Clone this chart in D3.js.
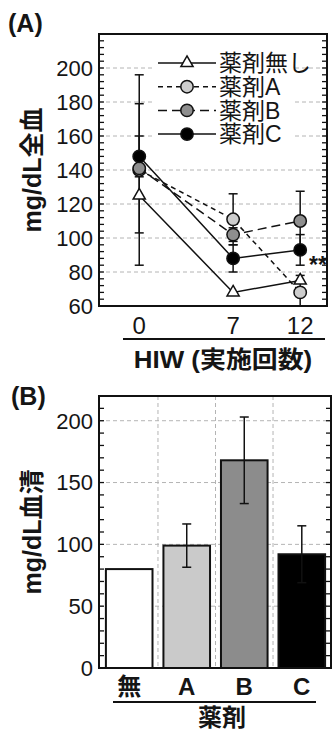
<!DOCTYPE html>
<html>
<head>
<meta charset="utf-8">
<script src="https://cdn.jsdelivr.net/npm/d3@7"></script>
<style>
    body { margin: 0; background: #fff; }
    text { font-family: "Liberation Sans", Arial, "Noto Sans CJK JP", sans-serif; fill: #151515; }
</style>
</head>
<body>
<div id="chart"></div>
<script>
// (A) 全血 - HIW 実施回数
const hiwRounds = [0, 7, 12];
const legendNames = ['薬剤無し', '薬剤A', '薬剤B', '薬剤C'];
const noDrugMean = [125, 68, 75];
const drugAMean = [140, 111, 68];
const drugAErr = [56, 15, 10];
const drugBMean = [141, 102, 110];
const drugBErr = [38, 4, 17.5];
const drugCMean = [148, 88, 93];
const drugCErr = [12, 8, 9];
const yTicksA = [60, 80, 100, 120, 140, 160, 180, 200];

// (B) 血清
const drugLabels = ['無', 'A', 'B', 'C'];
const serumMean = [80, 99, 168, 92];
const serumErr = [null, 17.5, 35, 23];
const yTicksB = [0, 50, 100, 150, 200];

const W = 332, H = 731;
const svg = d3.select('#chart').append('svg')
    .attr('width', W)
    .attr('height', H);

const gridColor = '#b4b4b4';

// élargir un texte horizontalement autour de son point d'ancrage
function widen(sel, k) {
    sel.each(function() {
        const t = d3.select(this);
        const x = +t.attr('x'), y = +t.attr('y');
        t.attr('x', 0).attr('y', 0)
            .attr('transform', `translate(${x},${y}) scale(${k},1)`);
    });
}

// ---------- panel A ----------
const pa = { left: 99, right: 327, top: 34, bottom: 306 };
const xA = d3.scaleLinear().domain([-3, 14]).range([pa.left, pa.right]);
const yA = d3.scaleLinear().domain([60, 220]).range([pa.bottom, pa.top]);

const gA = svg.append('g');

// grille
gA.append('g').selectAll('line')
    .data(yTicksA.filter(v => v > 60))
    .enter().append('line')
    .attr('x1', pa.left).attr('x2', pa.right)
    .attr('y1', d => yA(d)).attr('y2', d => yA(d))
    .attr('stroke', gridColor)
    .attr('stroke-width', 1)
    .attr('stroke-dasharray', '4,3');

// ticks internes gauche / droite
function innerTicks(g, scale, x, dir, values, len) {
    g.append('g').selectAll('line')
        .data(values)
        .enter().append('line')
        .attr('x1', x).attr('x2', x + dir * len)
        .attr('y1', d => scale(d)).attr('y2', d => scale(d))
        .attr('stroke', '#111')
        .attr('stroke-width', 1.3);
}
const minorA = d3.range(60, 221, 4);
innerTicks(gA, yA, pa.left, 1, minorA, 5);
innerTicks(gA, yA, pa.right, -1, minorA, 5);

// labels axe Y
gA.append('g').selectAll('text')
    .data(yTicksA)
    .enter().append('text')
    .attr('x', 93)
    .attr('y', d => yA(d))
    .attr('dy', '0.36em')
    .attr('text-anchor', 'end')
    .style('font-size', '22px')
    .text(d => d);

// labels axe X
gA.append('g').selectAll('text')
    .data(hiwRounds)
    .enter().append('text')
    .attr('x', d => xA(d))
    .attr('y', 334)
    .attr('text-anchor', 'middle')
    .style('font-size', '24px')
    .text(d => d);

gA.append('line')
    .attr('x1', 123).attr('x2', 325)
    .attr('y1', 339).attr('y2', 339)
    .attr('stroke', '#111').attr('stroke-width', 2);

gA.append('text')
    .attr('x', 223).attr('y', 368)
    .attr('text-anchor', 'middle')
    .style('font-size', '24px')
    .style('font-weight', 'bold')
    .text('HIW (実施回数)')
    .call(widen, 1.08);

gA.append('text')
    .attr('transform', `translate(41, ${(pa.top + pa.bottom) / 2}) rotate(-90)`)
    .attr('text-anchor', 'middle')
    .style('font-size', '25px')
    .style('font-weight', 'bold')
    .text('mg/dL全血');

gA.append('text')
    .attr('x', 8).attr('y', 32)
    .style('font-size', '25px')
    .style('font-weight', 'bold')
    .text('(A)');

// séries
const seriesA = [
    { name: legendNames[0], mean: noDrugMean, err: null, marker: 'tri', fill: '#fff', dash: null },
    { name: legendNames[1], mean: drugAMean, err: drugAErr, marker: 'circle', fill: '#cdcdcd', dash: '5,4' },
    { name: legendNames[2], mean: drugBMean, err: drugBErr, marker: 'circle', fill: '#8e8e8e', dash: '9,5' },
    { name: legendNames[3], mean: drugCMean, err: drugCErr, marker: 'circle', fill: '#000', dash: null }
];

svg.append('clipPath').attr('id', 'clipA')
    .append('rect')
    .attr('x', pa.left).attr('y', pa.top)
    .attr('width', pa.right - pa.left).attr('height', pa.bottom - pa.top);

const plotA = gA.append('g').attr('clip-path', 'url(#clipA)');

const line = d3.line()
    .x((d, i) => xA(hiwRounds[i]))
    .y(d => yA(d));

seriesA.forEach(s => {
    plotA.append('path')
        .datum(s.mean)
        .attr('d', line)
        .attr('fill', 'none')
        .attr('stroke', '#111')
        .attr('stroke-width', 1.5)
        .attr('stroke-dasharray', s.dash);
});

const cap = 4.5;
seriesA.filter(s => s.err).forEach(s => {
    const eg = plotA.append('g');
    s.mean.forEach((m, i) => {
        const x = xA(hiwRounds[i]);
        const y0 = yA(m - s.err[i]), y1 = yA(m + s.err[i]);
        eg.append('line').attr('x1', x).attr('x2', x).attr('y1', y0).attr('y2', y1);
        eg.append('line').attr('x1', x - cap).attr('x2', x + cap).attr('y1', y0).attr('y2', y0);
        eg.append('line').attr('x1', x - cap).attr('x2', x + cap).attr('y1', y1).attr('y2', y1);
    });
    eg.selectAll('line').attr('stroke', '#111').attr('stroke-width', 1.5);
});

const triPath = d3.symbol().type(d3.symbolTriangle).size(64);

function drawMarker(g, s, x, y) {
    if (s.marker === 'tri') {
        g.append('path')
            .attr('d', triPath())
            .attr('transform', `translate(${x},${y})`)
            .attr('fill', s.fill)
            .attr('stroke', '#111')
            .attr('stroke-width', 1.5);
    } else {
        g.append('circle')
            .attr('cx', x).attr('cy', y).attr('r', 6.2)
            .attr('fill', s.fill)
            .attr('stroke', '#111')
            .attr('stroke-width', 1.5);
    }
}

seriesA.forEach(s => {
    s.mean.forEach((m, i) => drawMarker(plotA, s, xA(hiwRounds[i]), yA(m)));
});

gA.append('text')
    .attr('x', 309).attr('y', 273)
    .style('font-size', '23px')
    .style('font-weight', 'bold')
    .text('**');

// légende
const leg = gA.append('g');
leg.append('rect')
    .attr('x', 153).attr('y', 50)
    .attr('width', 140).attr('height', 96)
    .attr('fill', '#fff');
seriesA.forEach((s, i) => {
    const ly = 63 + i * 23.7;
    leg.append('line')
        .attr('x1', 158).attr('x2', 216)
        .attr('y1', ly).attr('y2', ly)
        .attr('stroke', '#111')
        .attr('stroke-width', 1.5)
        .attr('stroke-dasharray', s.dash);
    drawMarker(leg, s, 187, ly);
    leg.append('text')
        .attr('x', 219).attr('y', ly)
        .attr('dy', '0.36em')
        .style('font-size', '23px')
        .text(s.name);
});

// cadre
gA.append('rect')
    .attr('x', pa.left).attr('y', pa.top)
    .attr('width', pa.right - pa.left).attr('height', pa.bottom - pa.top)
    .attr('fill', 'none')
    .attr('stroke', '#111')
    .attr('stroke-width', 2);

// ---------- panel B ----------
const pb = { left: 99, right: 331, top: 396, bottom: 668 };
const xB = d3.scaleBand().domain(drugLabels).range([pb.left, 332])
    .paddingInner(0.19).paddingOuter(0.12);
const yB = d3.scaleLinear().domain([0, 220]).range([pb.bottom, pb.top]);

const gB = svg.append('g');

gB.append('g').selectAll('line')
    .data(yTicksB.filter(v => v > 0))
    .enter().append('line')
    .attr('x1', pb.left).attr('x2', pb.right)
    .attr('y1', d => yB(d)).attr('y2', d => yB(d))
    .attr('stroke', gridColor)
    .attr('stroke-width', 1)
    .attr('stroke-dasharray', '4,3');

gB.append('g').selectAll('line')
    .data(drugLabels.slice(1))
    .enter().append('line')
    .attr('x1', d => xB(d) - xB.step() * xB.paddingInner() / 2)
    .attr('x2', d => xB(d) - xB.step() * xB.paddingInner() / 2)
    .attr('y1', pb.top).attr('y2', pb.bottom)
    .attr('stroke', gridColor)
    .attr('stroke-width', 1)
    .attr('stroke-dasharray', '4,3');

const minorB = d3.range(0, 221, 10);
innerTicks(gB, yB, pb.left, 1, minorB, 5);
innerTicks(gB, yB, pb.right, -1, minorB, 5);

const barFill = ['#fff', '#cacaca', '#8c8c8c', '#000'];
gB.append('g').selectAll('rect')
    .data(serumMean)
    .enter().append('rect')
    .attr('x', (d, i) => xB(drugLabels[i]))
    .attr('y', d => yB(d))
    .attr('width', xB.bandwidth())
    .attr('height', d => yB(0) - yB(d))
    .attr('fill', (d, i) => barFill[i])
    .attr('stroke', '#111')
    .attr('stroke-width', 2);

const ebB = gB.append('g');
serumMean.forEach((m, i) => {
    if (serumErr[i] == null) return;
    const x = xB(drugLabels[i]) + xB.bandwidth() / 2;
    const y0 = yB(m - serumErr[i]), y1 = yB(m + serumErr[i]);
    ebB.append('line').attr('x1', x).attr('x2', x).attr('y1', y0).attr('y2', y1);
    ebB.append('line').attr('x1', x - cap).attr('x2', x + cap).attr('y1', y0).attr('y2', y0);
    ebB.append('line').attr('x1', x - cap).attr('x2', x + cap).attr('y1', y1).attr('y2', y1);
});
ebB.selectAll('line').attr('stroke', '#111').attr('stroke-width', 1.5);

gB.append('g').selectAll('text')
    .data(yTicksB)
    .enter().append('text')
    .attr('x', 93)
    .attr('y', d => yB(d))
    .attr('dy', '0.36em')
    .attr('text-anchor', 'end')
    .style('font-size', '22px')
    .text(d => d);

gB.append('g').selectAll('text')
    .data(drugLabels)
    .enter().append('text')
    .attr('x', d => xB(d) + xB.bandwidth() / 2)
    .attr('y', 695)
    .attr('text-anchor', 'middle')
    .style('font-size', '24px')
    .style('font-weight', 'bold')
    .text(d => d);

gB.append('line')
    .attr('x1', 113).attr('x2', 316)
    .attr('y1', 702).attr('y2', 702)
    .attr('stroke', '#111').attr('stroke-width', 2);

gB.append('text')
    .attr('x', 222).attr('y', 726)
    .attr('text-anchor', 'middle')
    .style('font-size', '24px')
    .style('font-weight', 'bold')
    .text('薬剤');

gB.append('text')
    .attr('transform', `translate(41, ${(pb.top + pb.bottom) / 2}) rotate(-90)`)
    .attr('text-anchor', 'middle')
    .style('font-size', '25px')
    .style('font-weight', 'bold')
    .text('mg/dL血清');

gB.append('text')
    .attr('x', 11).attr('y', 405)
    .style('font-size', '25px')
    .style('font-weight', 'bold')
    .text('(B)');

gB.append('rect')
    .attr('x', pb.left).attr('y', pb.top)
    .attr('width', pb.right - pb.left).attr('height', pb.bottom - pb.top)
    .attr('fill', 'none')
    .attr('stroke', '#111')
    .attr('stroke-width', 2);
</script>
</body>
</html>
